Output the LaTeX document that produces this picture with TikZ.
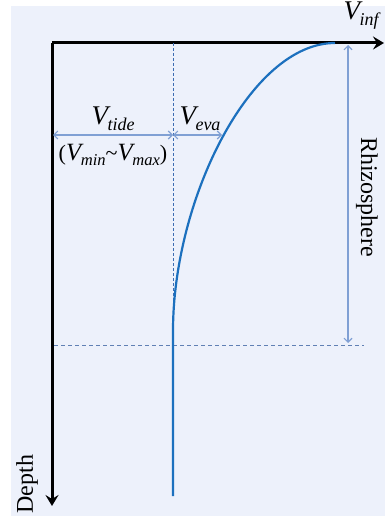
\documentclass[tikz,border=0pt]{standalone}
\usepackage{fontspec}
\setmainfont{Liberation Serif}
\usetikzlibrary{arrows.meta,positioning}
\definecolor{paneblue}{RGB}{237,241,251}
\definecolor{curveblue}{RGB}{28,112,190}
\definecolor{dimblue}{RGB}{128,160,212}
\definecolor{guideblue}{RGB}{96,128,180}
\definecolor{splitblue}{RGB}{60,108,178}
\newcommand{\vsub}[1]{\textit{{\fontsize{27}{30}\selectfont V}\kern-0.5pt\raisebox{-6pt}{\fontsize{18}{18}\selectfont #1}}}

\begin{document}
\begin{tikzpicture}[x=1pt, y=-1pt, font=\fontsize{24}{28}\selectfont,
      axis/.style={line width=3pt, -{Stealth[length=11pt, width=13pt, inset=4pt]}},
      dim/.style={dimblue, line width=1.1pt,
                  {Straight Barb[length=4pt, width=8pt]}-{Straight Barb[length=4pt, width=8pt]}},
      guide/.style={guideblue, line width=0.9pt, dash pattern=on 4pt off 3pt},
      lbl/.style={inner sep=0pt}
    ]
    \useasboundingbox (0,0) rectangle (385,516);
    \fill[paneblue] (11,6) rectangle (385,516);

    % axes
    \coordinate (O) at (52,43);
    \coordinate (xend) at (384,43);
    \coordinate (yend) at (52,506);
    \draw[axis] (O) -- (xend);
    \draw[axis] (O) -- (yend);
    \node[lbl] (vinf) at (361,16) {\vsub{inf}};
    \node[lbl, rotate=90] (depth) at (27,484) {Depth};

    % guides
    \coordinate (top) at (173,43);
    \coordinate (meet) at (173,331);
    \coordinate (rl) at (54,345);
    \coordinate (rr) at (364,345);
    \draw[guide, splitblue, dash pattern=on 3pt off 2pt] (top) -- (meet);
    \draw[guide] (rl) -- (rr);

    % profile
    \coordinate (tip) at (335,43);
    \coordinate (bot) at (173,496);
    \draw[curveblue, line width=2.2pt]
      (tip) .. controls (250,43) and (173,200) .. (meet) -- (bot);

    % widths
    \coordinate (ml) at (53,135);
    \coordinate (mm) at (173,135);
    \coordinate (mr) at (222,135);
    \draw[dim] (ml) -- (mm);
    \draw[dim] (mm) -- (mr);
    \node[lbl] (vtide) at (113,119) {\vsub{tide}};
    \node[lbl] (veva) at (200,119) {\vsub{eva}};
    \node[lbl, scale=0.92] (vrange) at (113,155)
      {(\vsub{min}\textasciitilde\vsub{max})};

    % rhizosphere
    \coordinate (rt) at (348,45);
    \coordinate (rb) at (348,343);
    \draw[dim] (rt) -- (rb);
    \node[lbl, rotate=-90] (rhizo) at (367,197) {Rhizosphere};
  \end{tikzpicture}
\end{document}
